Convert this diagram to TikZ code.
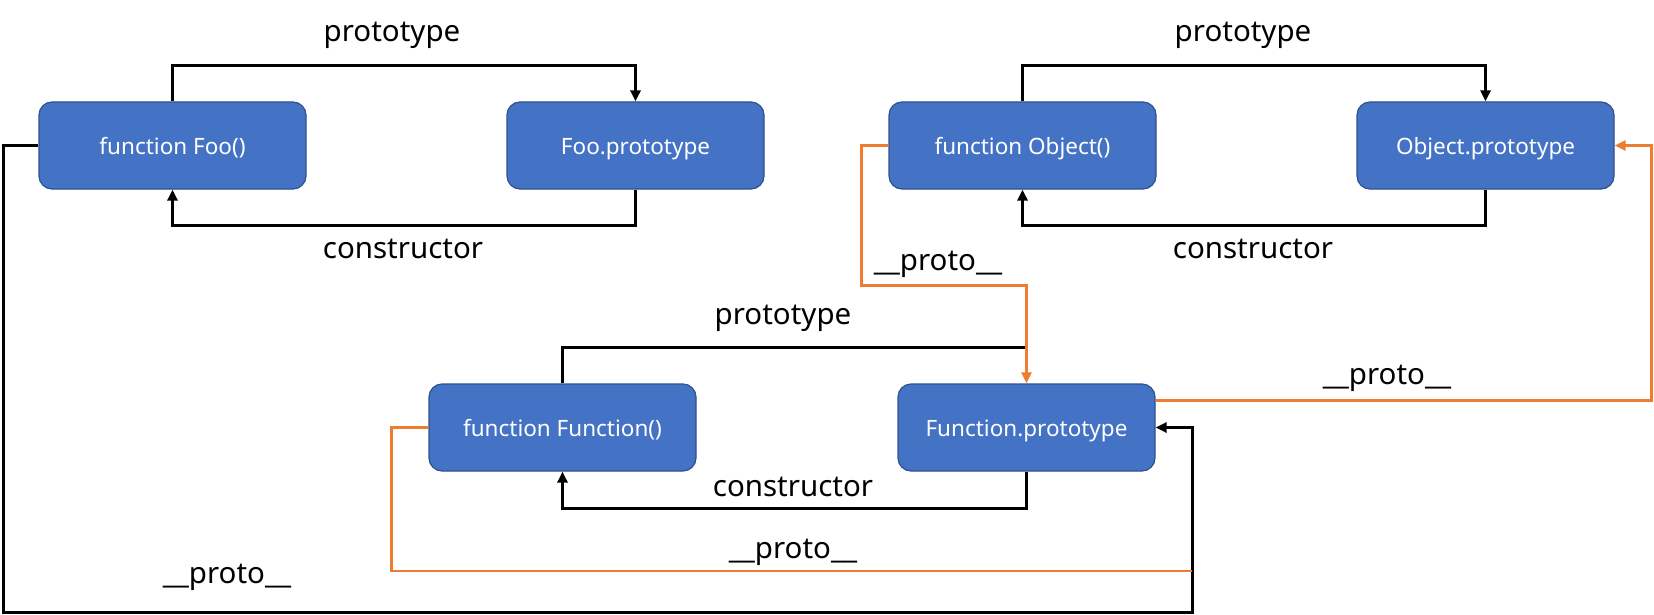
\documentclass[tikz,border=0pt]{standalone}
\usepackage{fontspec}
\setmainfont{Noto Sans}
\usetikzlibrary{arrows.meta,calc}
\definecolor{boxblue}{HTML}{4472C4}
\definecolor{boxedge}{HTML}{2F528F}
\definecolor{protoorange}{HTML}{ED7D31}
\tikzset{
  objbox/.style={rounded corners=13pt, fill=boxblue, draw=boxedge, line width=1.2pt,
    minimum height=87pt, text=white, inner sep=0pt, text height=17pt, text depth=0pt,
    font=\fontsize{22.5}{27}\selectfont},
  fnbox/.style={objbox, minimum width=267pt},
  protobox/.style={objbox, minimum width=257pt},
  blackline/.style={draw=black, line width=3pt},
  orangeline/.style={draw=protoorange, line width=2.6pt},
  tip/.style={-{Triangle[length=11pt,width=10pt]}},
  lbl/.style={anchor=base, inner sep=0pt, font=\fontsize{29.5}{35}\selectfont}
}
\begin{document}
\begin{tikzpicture}[x=1pt,y=-1pt]
\useasboundingbox (0,0) rectangle (1654,615);
% boxes
\node[fnbox]    (foo)   at (172.5,145.5)  {function Foo()};
\node[protobox] (foop)  at (635.5,145.5)  {Foo.prototype};
\node[fnbox]    (obj)   at (1022.5,145.5) {function Object()};
\node[protobox] (objp)  at (1485.5,145.5) {Object.prototype};
\node[fnbox]    (func)  at (562.5,427.5)  {function Function()};
\node[protobox] (funcp) at (1026.5,427.5) {Function.prototype};
% junction coordinates
\coordinate (lb) at (3,612);
\coordinate (rb) at (1192,612);
% Foo
\draw[blackline,tip] (foo.north) -- ++(0,-36) -| (foop.north);
\draw[blackline,tip] (foop.south) -- ++(0,36) -| (foo.south);
% Object
\draw[blackline,tip] (obj.north) -- ++(0,-36) -| (objp.north);
\draw[blackline,tip] (objp.south) -- ++(0,36) -| (obj.south);
% Function
\draw[blackline] (func.north) |- ($(funcp.north)+(0,-36)$);
\draw[blackline,tip] (funcp.south) -- ++(0,37) -| (func.south);
% Foo __proto__
\draw[blackline,tip] (foo.west) -| (lb) -- (rb) |- (funcp.east);
% Function() __proto__
\draw[orangeline] (func.west) -- ++(-37,0) |- (rb |- 0,571);
% Object() __proto__
\draw[orangeline,tip] (obj.west) -- ++(-27,0) -- ++(0,140) -| (funcp.north);
% Function.prototype __proto__
\draw[orangeline,tip] ($(funcp.east)+(0,-27)$) -- ++(496,0) |- (objp.east);
% labels
\node[lbl] (l1) at (392,42)   {prototype};
\node[lbl] (l2) at (403,258)  {constructor};
\node[lbl] (l3) at (1243,42)  {prototype};
\node[lbl] (l4) at (1253,258) {constructor};
\node[lbl] (l5) at (938,270)  {\_\_proto\_\_};
\node[lbl] (l6) at (783,324)  {prototype};
\node[lbl] (l7) at (793,496)  {constructor};
\node[lbl] (l8) at (1387,384) {\_\_proto\_\_};
\node[lbl] (l9) at (793,558)  {\_\_proto\_\_};
\node[lbl] (l10) at (227,583) {\_\_proto\_\_};
\end{tikzpicture}
\end{document}
